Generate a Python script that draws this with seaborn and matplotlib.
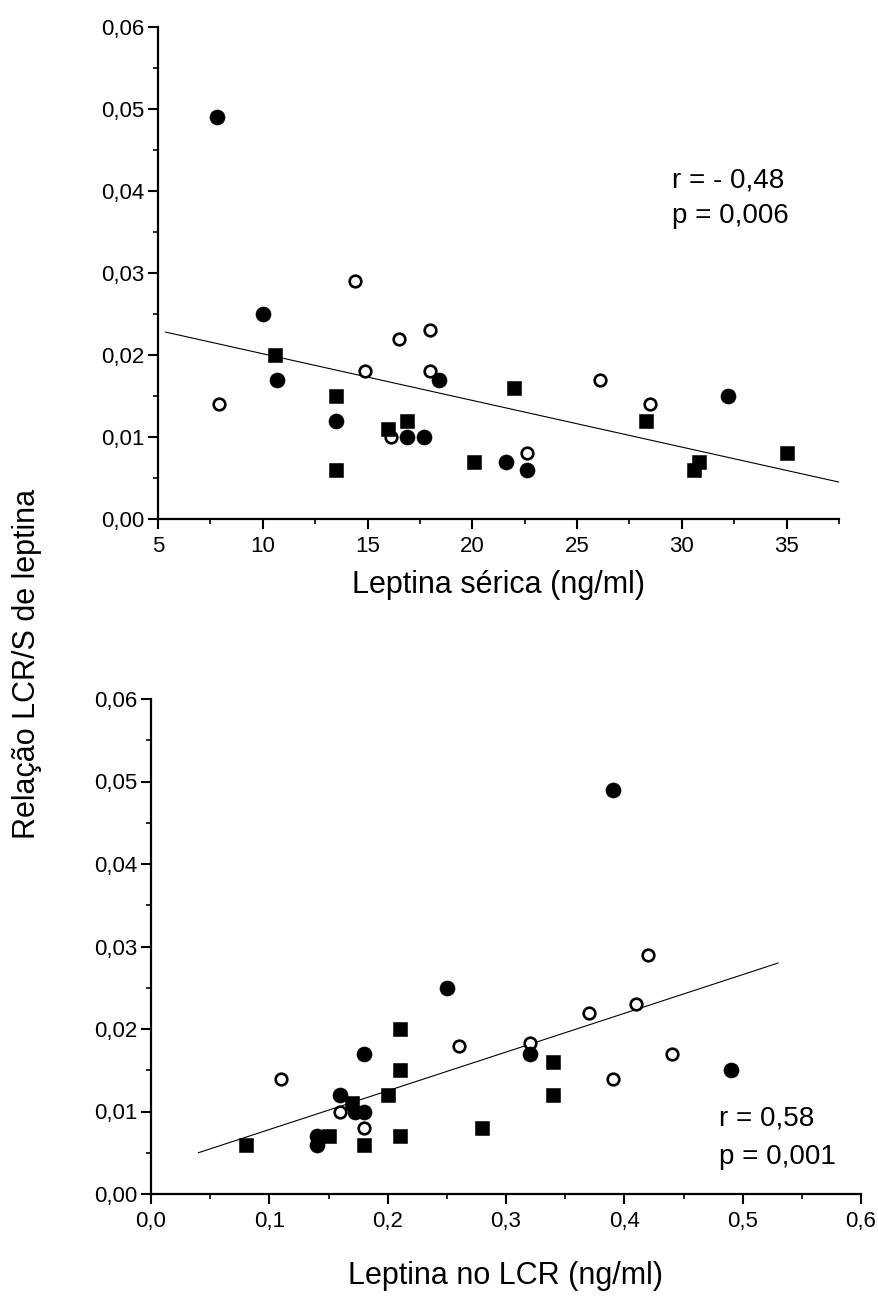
import numpy as np
import pandas as pd
import matplotlib
matplotlib.use("Agg")
import matplotlib.pyplot as plt
import seaborn as sns
from matplotlib.ticker import MultipleLocator, FuncFormatter

# ---------------- data ----------------
# Top panel: serum leptin (ng/ml) vs CSF/serum leptin ratio
top_filled_x = [7.8, 10.0, 10.7, 13.5, 16.9, 17.7, 18.4, 21.6, 22.6, 32.2]
top_filled_y = [0.049, 0.025, 0.017, 0.012, 0.010, 0.010, 0.017, 0.007, 0.006, 0.015]
top_open_x = [7.9, 14.4, 14.9, 16.5, 18.0, 18.0, 16.1, 22.6, 26.1, 28.5]
top_open_y = [0.014, 0.029, 0.018, 0.022, 0.023, 0.018, 0.010, 0.008, 0.017, 0.014]
top_square_x = [10.6, 13.5, 13.5, 16.0, 16.9, 20.1, 22.0, 28.3, 30.6, 30.8, 35.0]
top_square_y = [0.020, 0.015, 0.006, 0.011, 0.012, 0.007, 0.016, 0.012, 0.006, 0.007, 0.008]
top_fit_x = [5.35, 37.5]
top_fit_y = [0.0228, 0.0045]

# Bottom panel: CSF leptin (ng/ml) vs CSF/serum leptin ratio
bot_filled_x = [0.39, 0.25, 0.18, 0.16, 0.18, 0.172, 0.32, 0.49, 0.14, 0.14]
bot_filled_y = [0.049, 0.025, 0.017, 0.012, 0.010, 0.010, 0.017, 0.015, 0.007, 0.006]
bot_open_x = [0.11, 0.16, 0.18, 0.26, 0.32, 0.37, 0.41, 0.42, 0.44, 0.39]
bot_open_y = [0.014, 0.010, 0.008, 0.018, 0.0183, 0.022, 0.023, 0.029, 0.017, 0.014]
bot_square_x = [0.08, 0.15, 0.17, 0.18, 0.20, 0.21, 0.21, 0.21, 0.28, 0.34, 0.34]
bot_square_y = [0.006, 0.007, 0.011, 0.006, 0.012, 0.020, 0.015, 0.007, 0.008, 0.016, 0.012]
bot_fit_x = [0.04, 0.53]
bot_fit_y = [0.0050, 0.0280]

top_xticks = [5, 10, 15, 20, 25, 30, 35]
y_ticks = [0.00, 0.01, 0.02, 0.03, 0.04, 0.05, 0.06]
bot_xticks = [0.0, 0.1, 0.2, 0.3, 0.4, 0.5, 0.6]

top_stats = ["r = - 0,48", "p = 0,006"]
bot_stats = ["r = 0,58", "p = 0,001"]

# ---------------- style ----------------
sns.set_theme(style="ticks")
plt.rcParams['font.family'] = ['Liberation Sans', 'DejaVu Sans']
plt.rcParams['axes.linewidth'] = 1.6
plt.rcParams['text.color'] = 'black'
plt.rcParams['axes.labelcolor'] = 'black'
plt.rcParams['axes.edgecolor'] = 'black'

fig = plt.figure(figsize=(8.79, 13.04), dpi=100)
ax_top = fig.add_axes([158/879, 1 - 519/1304, 681/879, 492/1304])
ax_bot = fig.add_axes([151/879, 1 - 1194/1304, 710/879, 495/1304])


def comma_fmt(nd):
    return FuncFormatter(lambda v, p: f"{v:.{nd}f}".replace(".", ","))


def draw(ax, fx, fy, ox, oy, sx, sy, lx, ly):
    sns.lineplot(x=lx, y=ly, ax=ax, color="black", linewidth=0.8, zorder=2)
    sns.scatterplot(x=ox, y=oy, ax=ax, marker="o", s=70, facecolor="white",
                    edgecolor="black", linewidth=1.9, zorder=3)
    sns.scatterplot(x=sx, y=sy, ax=ax, marker="s", s=100, color="black",
                    edgecolor="black", linewidth=0.4, zorder=4)
    sns.scatterplot(x=fx, y=fy, ax=ax, marker="o", s=118, color="black",
                    edgecolor="black", linewidth=0.4, zorder=5)
    for side in ("top", "right"):
        ax.spines[side].set_visible(False)
    ax.set_ylim(0, 0.06)
    ax.set_yticks(y_ticks)
    ax.yaxis.set_minor_locator(MultipleLocator(0.005))
    ax.yaxis.set_major_formatter(comma_fmt(2))
    ax.tick_params(which="major", direction="out", length=7, width=1.5,
                   labelsize=16, pad=3, color="black", labelcolor="black")
    ax.tick_params(which="minor", direction="out", length=3.5, width=1.2, color="black")
    ax.tick_params(axis="x", which="major", pad=5)
    ax.set_facecolor("white")


draw(ax_top, top_filled_x, top_filled_y, top_open_x, top_open_y,
     top_square_x, top_square_y, top_fit_x, top_fit_y)
ax_top.set_xlim(5, 37.5)
ax_top.set_xticks(top_xticks)
ax_top.xaxis.set_minor_locator(MultipleLocator(2.5))
ax_top.set_xlabel("Leptina sérica (ng/ml)", fontsize=22)
ax_top.xaxis.set_label_coords(0.5, -(585 - 519) / 492)
ax_top.xaxis.label.set_va("center")
ax_top.text(29.55, 0.0413, top_stats[0], fontsize=20, va="center", ha="left")
ax_top.text(29.55, 0.0369, top_stats[1], fontsize=20, va="center", ha="left")

draw(ax_bot, bot_filled_x, bot_filled_y, bot_open_x, bot_open_y,
     bot_square_x, bot_square_y, bot_fit_x, bot_fit_y)
ax_bot.set_xlim(0, 0.6)
ax_bot.set_xticks(bot_xticks)
ax_bot.xaxis.set_minor_locator(MultipleLocator(0.05))
ax_bot.xaxis.set_major_formatter(comma_fmt(1))
ax_bot.set_xlabel("Leptina no LCR (ng/ml)", fontsize=22)
ax_bot.xaxis.set_label_coords(0.5, -(1276 - 1194) / 495)
ax_bot.xaxis.label.set_va("center")
ax_bot.text(0.48, 0.0092, bot_stats[0], fontsize=20, va="center", ha="left")
ax_bot.text(0.48, 0.0045, bot_stats[1], fontsize=20, va="center", ha="left")

fig.text(27/879, 1 - 664/1304, "Relação LCR/S de leptina", rotation=90,
         fontsize=22, ha="center", va="center")

fig.savefig("out.png", dpi=100, facecolor="white")
